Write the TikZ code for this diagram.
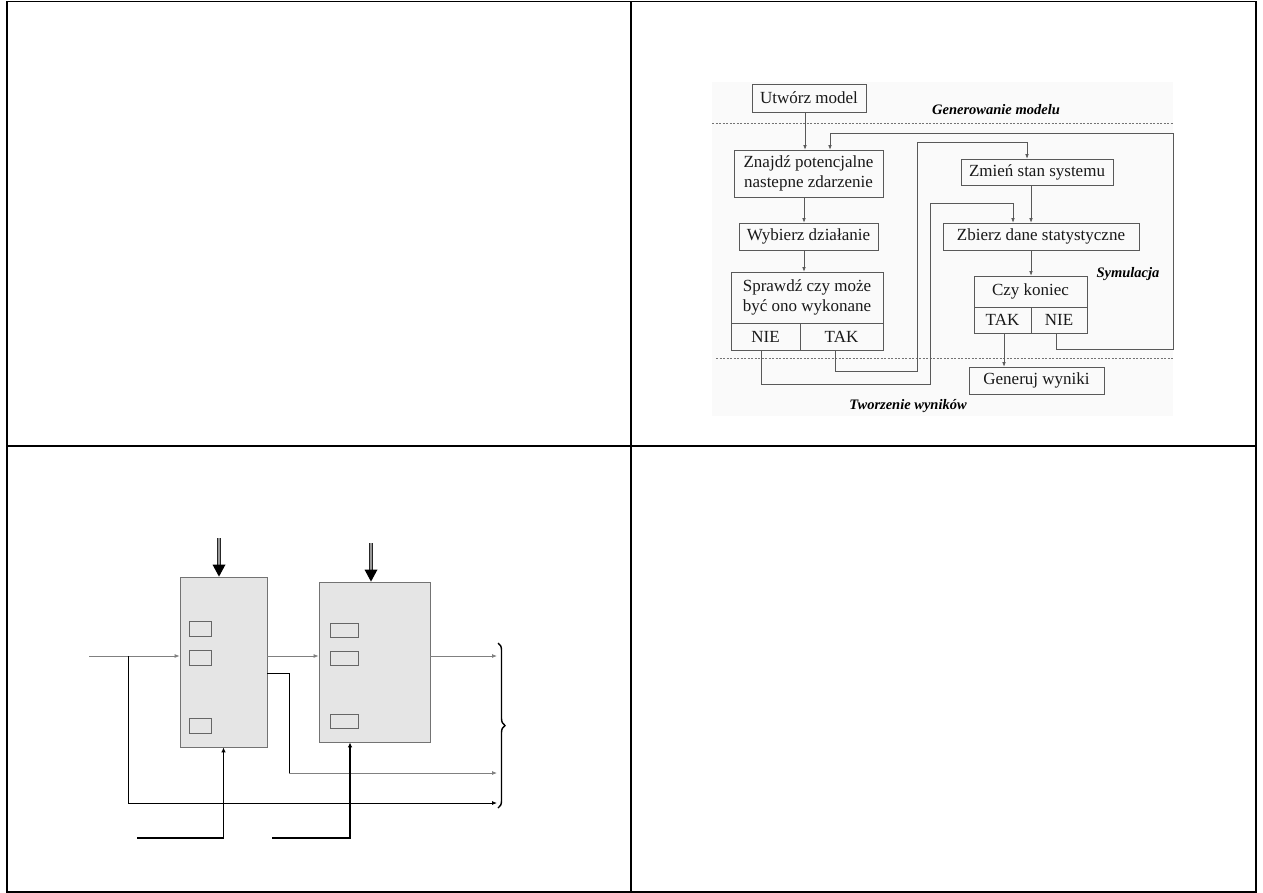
\documentclass[tikz,border=0pt]{standalone}
\usepackage{fontspec}
\setmainfont{Liberation Serif}
\usetikzlibrary{arrows.meta,decorations.pathreplacing,calc}
\begin{document}
\begin{tikzpicture}[x=1pt,y=-1pt,
  fbox/.style={draw=black!65, line width=0.6pt, inner sep=0pt, align=center,
    font=\fontsize{17}{19.5}\selectfont, text=black!90},
  conn/.style={draw=black!65, line width=0.6pt},
  arr/.style={conn, -{Latex[length=4.5pt,width=3.5pt]}},
  lbl/.style={font=\fontsize{14.5}{16}\selectfont\bfseries\itshape},
  sep/.style={draw=black!55, line width=0.5pt, dash pattern=on 2pt off 1.5pt},
  gbox/.style={draw=black!55, fill=black!10, line width=0.8pt, inner sep=0pt},
  sbox/.style={draw=black!60, line width=0.7pt, inner sep=0pt},
  thin arr/.style={line width=0.8pt, -{Latex[length=5pt,width=4pt]}},
  thick arr/.style={black, line width=1.7pt, -{Latex[length=5pt,width=4.5pt]}},
  shaft/.style={black!85, line width=1.6pt, double=black!40, double distance=1.6pt},
  frame/.style={black, line width=1.3pt}]
\useasboundingbox (0,0) rectangle (1263,893);
% panel frame
\draw[frame] (7,1.5) rectangle (1256,892);
\draw[frame] (631,1.5) -- (631,892);
\draw[frame] (7,446) -- (1256,446);

% ---------- top right flowchart ----------
\fill[black!2] (712,82) rectangle (1173,416);
\draw[sep] (712,123) -- (1173,123);
\draw[sep] (716,358) -- (1173,358);

\node[fbox, minimum width=114pt, minimum height=28pt] (utworz) at (809,98) {Utwórz model};
\node[fbox, minimum width=149pt, minimum height=47pt] (znajdz) at (808.5,173.5) {Znajdź potencjalne\\nastepne zdarzenie};
\node[fbox, minimum width=139pt, minimum height=27pt] (wybierz) at (808.5,236.5) {Wybierz działanie};
\node[fbox, minimum width=152pt, minimum height=51pt] (spr) at (807,297.5) {Sprawdź czy może\\być ono wykonane};
\node[fbox, minimum width=69pt, minimum height=27pt] (sprnie) at (765.5,336.5) {NIE};
\node[fbox, minimum width=83pt, minimum height=27pt] (sprtak) at (841.5,336.5) {TAK};
\node[fbox, minimum width=152pt, minimum height=26pt] (zmien) at (1037,172) {Zmień stan systemu};
\node[fbox, minimum width=196pt, minimum height=27pt] (zbierz) at (1041,236.5) {Zbierz dane statystyczne};
\node[fbox, minimum width=113pt, minimum height=31pt] (czy) at (1030.5,291.5) {Czy koniec};
\node[fbox, minimum width=57pt, minimum height=26pt] (czytak) at (1002.5,320) {TAK};
\node[fbox, minimum width=56pt, minimum height=26pt] (czynie) at (1059,320) {NIE};
\node[fbox, minimum width=135pt, minimum height=27pt] (generuj) at (1036.5,380.5) {Generuj wyniki};

\node[lbl] (genlbl) at (996,110) {Generowanie modelu};
\node[lbl] (symlbl) at (1128,274) {Symulacja};
\node[lbl] (tworlbl) at (908,406) {Tworzenie wyników};

\draw[arr] ([xshift=-4pt]utworz.south) -- ([xshift=-4pt]utworz.south |- znajdz.north);
\draw[arr] ([xshift=-4.5pt]znajdz.south) -- ([xshift=-4.5pt]znajdz.south |- wybierz.north);
\draw[arr] ([xshift=-4.5pt]wybierz.south) -- ([xshift=-4.5pt]wybierz.south |- spr.north);
\draw[arr] ([xshift=-4.5pt]sprnie.south) -- ++(0,34) -| (930,203) -| ([xshift=-28pt]zbierz.north);
\draw[arr] ([xshift=-6.5pt]sprtak.south) -- ++(0,21) -| (917,142) -| ([xshift=-10pt]zmien.north);
\draw[arr] ([xshift=-6pt]zmien.south) -- ([xshift=-6pt]zmien.south |- zbierz.north);
\draw[arr] ([xshift=-10pt]zbierz.south) -- ([xshift=-10pt]zbierz.south |- czy.north);
\draw[arr] ([xshift=1.5pt]czytak.south) -- ([xshift=1.5pt]czytak.south |- generuj.north);
\draw[arr] ([xshift=-3pt]czynie.south) -- ++(0,16) -| (1173,133) -| ([xshift=21.5pt]znajdz.north);

% ---------- bottom left block diagram ----------
\node[gbox, minimum width=87pt, minimum height=170pt] (b1) at (223.5,662) {};
\node[gbox, minimum width=111pt, minimum height=160pt] (b2) at (374.5,662) {};
\node[sbox, minimum width=22pt, minimum height=15pt] (s11) at (200,628.5) {};
\node[sbox, minimum width=22pt, minimum height=15pt] (s12) at (200,657.5) {};
\node[sbox, minimum width=22pt, minimum height=15pt] (s13) at (200,725.5) {};
\node[sbox, minimum width=28pt, minimum height=14pt] (s21) at (344,630) {};
\node[sbox, minimum width=28pt, minimum height=14pt] (s22) at (344,658) {};
\node[sbox, minimum width=28pt, minimum height=14pt] (s23) at (344,721.5) {};

\coordinate (t1) at (219,538);
\coordinate (t2) at (371,543);
\draw[shaft] (t1) -- ($(t1 |- b1.north)+(0,-10)$);
\fill[black] (t1 |- b1.north) -- ++(-6.5,-12) -- ++(13,0) -- cycle;
\draw[shaft] (t2) -- ($(t2 |- b2.north)+(0,-10)$);
\fill[black] (t2 |- b2.north) -- ++(-6.5,-12) -- ++(13,0) -- cycle;

\coordinate (inL) at (89,656);
\coordinate (br) at (128,656);
\coordinate (o1) at (497,656);
\coordinate (o2) at (497,773);
\coordinate (o3) at (497,803);
\coordinate (u1) at (137,838);
\coordinate (u2) at (272,838);

\draw[thin arr, black!50] (inL) -- (inL -| b1.west);
\draw[thin arr, black!50] (b1.east |- inL) -- (b2.west |- inL);
\draw[thin arr, black!50] (b2.east |- inL) -- (o1);
\draw[thin arr, black] (br) |- (o3);
\draw[line width=0.8pt, black] ($(b1.east)+(0,11)$) -| (289,773);
\draw[thin arr, black!50] (289,773) -- (o2);
\draw[thick arr] (u1) -| (b1.south);
\draw[thick arr] (u2) -| ([xshift=-24.5pt]b2.south);

\draw[decorate, decoration={brace, amplitude=7pt}, line width=1.4pt] (498,643) -- (498,808);
\end{tikzpicture}
\end{document}
